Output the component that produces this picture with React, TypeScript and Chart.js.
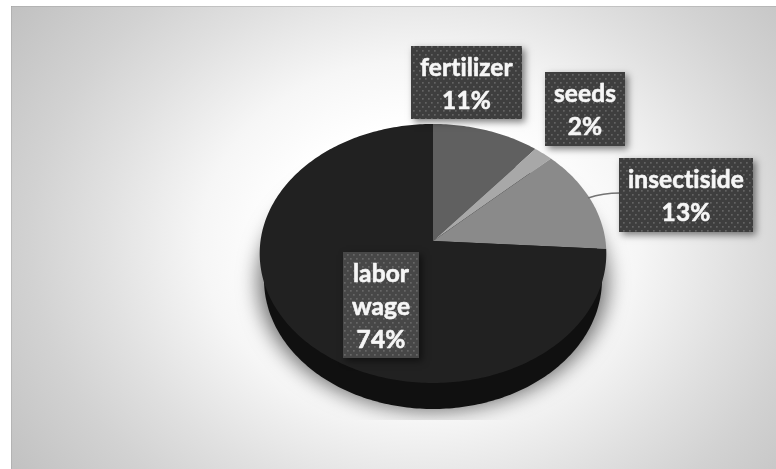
import React, { useEffect, useRef } from "react";
import { Chart, registerables } from "chart.js";

Chart.register(...registerables);

const categories = ["fertilizer", "seeds", "insectiside", "labor wage"];
const values = [11, 2, 13, 74];
const sliceColors = ["#606060", "#a8a8a8", "#8a8a8a", "#212121"];
const labelLines = [["fertilizer", "11%"], ["seeds", "2%"], ["insectiside", "13%"], ["labor", "wage", "74%"]];
const labelBoxes = [
  [411, 46, 111, 73],
  [545, 72, 80, 74],
  [619, 158, 134, 74],
  [343, 252, 76, 106],
];

const CX = 433, CY = 241, A = 172.5, B = 128.3, K = 0.0965, DEPTH = 26;

function project(theta: number, r: number, dy = 0, sx = 1): [number, number] {
  // theta in Chart.js convention (0 = +x, clockwise on screen), r in 0..1
  const u = r * Math.cos(theta);
  const v = -r * Math.sin(theta);
  const d = 1 + K * v;
  return [CX + (sx * A * u) / d, CY - (B * v) / d + dy];
}

function tracePerimeter(ctx: CanvasRenderingContext2D, dy: number, sx = 1, ox = 0) {
  for (let i = 0; i <= 360; i++) {
    const [x, y] = project((i / 180) * Math.PI, 1, dy, sx);
    if (i === 0) ctx.moveTo(x + ox, y);
    else ctx.lineTo(x + ox, y);
  }
  ctx.closePath();
}

const perspectivePie = {
  id: "perspectivePie",
  beforeDraw(chart: Chart) {
    const ctx = chart.ctx;
    ctx.save();
    ctx.fillStyle = "#ffffff";
    ctx.fillRect(0, 0, 776, 469);
    ctx.beginPath();
    ctx.rect(11, 6, 765, 463);
    ctx.clip();
    ctx.translate(420, 240);
    ctx.scale(400, 330);
    const g = ctx.createRadialGradient(0, 0, 0, 0, 0, 1.3);
    g.addColorStop(0, "#ffffff");
    g.addColorStop(0.27, "#ffffff");
    g.addColorStop(0.42, "#f6f6f6");
    g.addColorStop(0.615, "#e0e0e0");
    g.addColorStop(0.75, "#d2d2d2");
    g.addColorStop(0.94, "#c2c2c2");
    g.addColorStop(1, "#bdbdbd");
    ctx.fillStyle = g;
    ctx.fillRect(-2, -2, 4, 4);
    ctx.restore();
    ctx.save();
    ctx.fillStyle = "rgba(150,150,150,0.35)";
    ctx.fillRect(11, 6, 765, 1);
    ctx.fillRect(11, 6, 1, 463);
    ctx.restore();
  },
  beforeDatasetDraw(chart: Chart) {
    const ctx = chart.ctx;
    const meta = chart.getDatasetMeta(0);
    const maxR = (meta.data[0] as any).outerRadius;

    // soft shadow only (its caster is off-canvas), cut off flat at the bottom
    ctx.save();
    ctx.beginPath();
    ctx.rect(11, 6, 765, 414);
    ctx.clip();
    ctx.shadowColor = "rgba(0,0,0,0.55)";
    ctx.shadowBlur = 20;
    ctx.shadowOffsetX = 2000;
    ctx.shadowOffsetY = 2;
    ctx.fillStyle = "#000000";
    ctx.beginPath();
    tracePerimeter(ctx, DEPTH, 1.01, -2000);
    ctx.fill();
    ctx.restore();

    // extruded side
    ctx.save();
    ctx.fillStyle = "#101010";
    ctx.beginPath();
    tracePerimeter(ctx, DEPTH, 0.975);
    ctx.fill();
    ctx.restore();

    meta.data.forEach((el: any) => {
      const { startAngle, endAngle, outerRadius } = el.getProps(["startAngle", "endAngle", "outerRadius"], true);
      const r = outerRadius / maxR;
      const steps = Math.max(4, Math.ceil((endAngle - startAngle) * 60));
      ctx.beginPath();
      ctx.moveTo(CX, CY);
      for (let s = 0; s <= steps; s++) {
        const [x, y] = project(startAngle + ((endAngle - startAngle) * s) / steps, r);
        ctx.lineTo(x, y);
      }
      ctx.closePath();
      ctx.fillStyle = el.options.backgroundColor;
      ctx.fill();
    });
    return false;
  },
  afterDatasetsDraw(chart: Chart) {
    const ctx = chart.ctx;
    // leader line for insectiside
    ctx.save();
    ctx.strokeStyle = "#737373";
    ctx.lineWidth = 1.6;
    ctx.beginPath();
    ctx.moveTo(588, 198);
    ctx.quadraticCurveTo(603, 193, 620, 193);
    ctx.stroke();
    ctx.restore();

    labelBoxes.forEach(([x, y, w, h], i) => {
      ctx.save();
      ctx.shadowColor = "rgba(0,0,0,0.5)";
      ctx.shadowBlur = 7;
      ctx.shadowOffsetX = 3;
      ctx.shadowOffsetY = 3;
      ctx.fillStyle = i === 3 ? "#474747" : "#3e3e3e";
      ctx.fillRect(x, y, w, h);
      ctx.restore();

      ctx.save();
      ctx.beginPath();
      ctx.rect(x, y, w, h);
      ctx.clip();
      ctx.fillStyle = "rgba(125,125,125,0.6)";
      for (let py = 2; py < 469; py += 4) {
        for (let px = 2 + (((py - 2) / 4) % 2 ? 3 : 0); px < 776; px += 6) {
          if (px >= x && px <= x + w && py >= y && py <= y + h) ctx.fillRect(px, py, 1.7, 1.7);
        }
      }
      ctx.restore();

      const lines = labelLines[i];
      ctx.save();
      ctx.fillStyle = "#f6f6f6";
      ctx.strokeStyle = "#f6f6f6";
      ctx.lineWidth = 0.6;
      ctx.lineJoin = "round";
      ctx.font = "bold 24.5px Lato";
      (ctx as any).letterSpacing = "0.1px";
      ctx.textAlign = "center";
      ctx.textBaseline = "middle";
      const lh = 33;
      const cy = y + h / 2 + 2 - ((lines.length - 1) * lh) / 2;
      lines.forEach((t, j) => {
        ctx.fillText(t, x + w / 2, cy + j * lh);
        ctx.strokeText(t, x + w / 2, cy + j * lh);
      });
      ctx.restore();
    });
  },
};

export default function App() {
  const ref = useRef<HTMLCanvasElement>(null);
  useEffect(() => {
    document.body.style.margin = "0";
    const chart = new Chart(ref.current!, {
      type: "pie",
      data: {
        labels: categories,
        datasets: [{ data: values, backgroundColor: sliceColors, borderWidth: 0 }],
      },
      options: {
        responsive: false,
        animation: false,
        layout: { padding: 0 },
        plugins: { legend: { display: false }, tooltip: { enabled: false } },
      },
      plugins: [perspectivePie],
    });
    return () => chart.destroy();
  }, []);
  return <canvas ref={ref} width={776} height={469} style={{ display: "block" }} />;
}
